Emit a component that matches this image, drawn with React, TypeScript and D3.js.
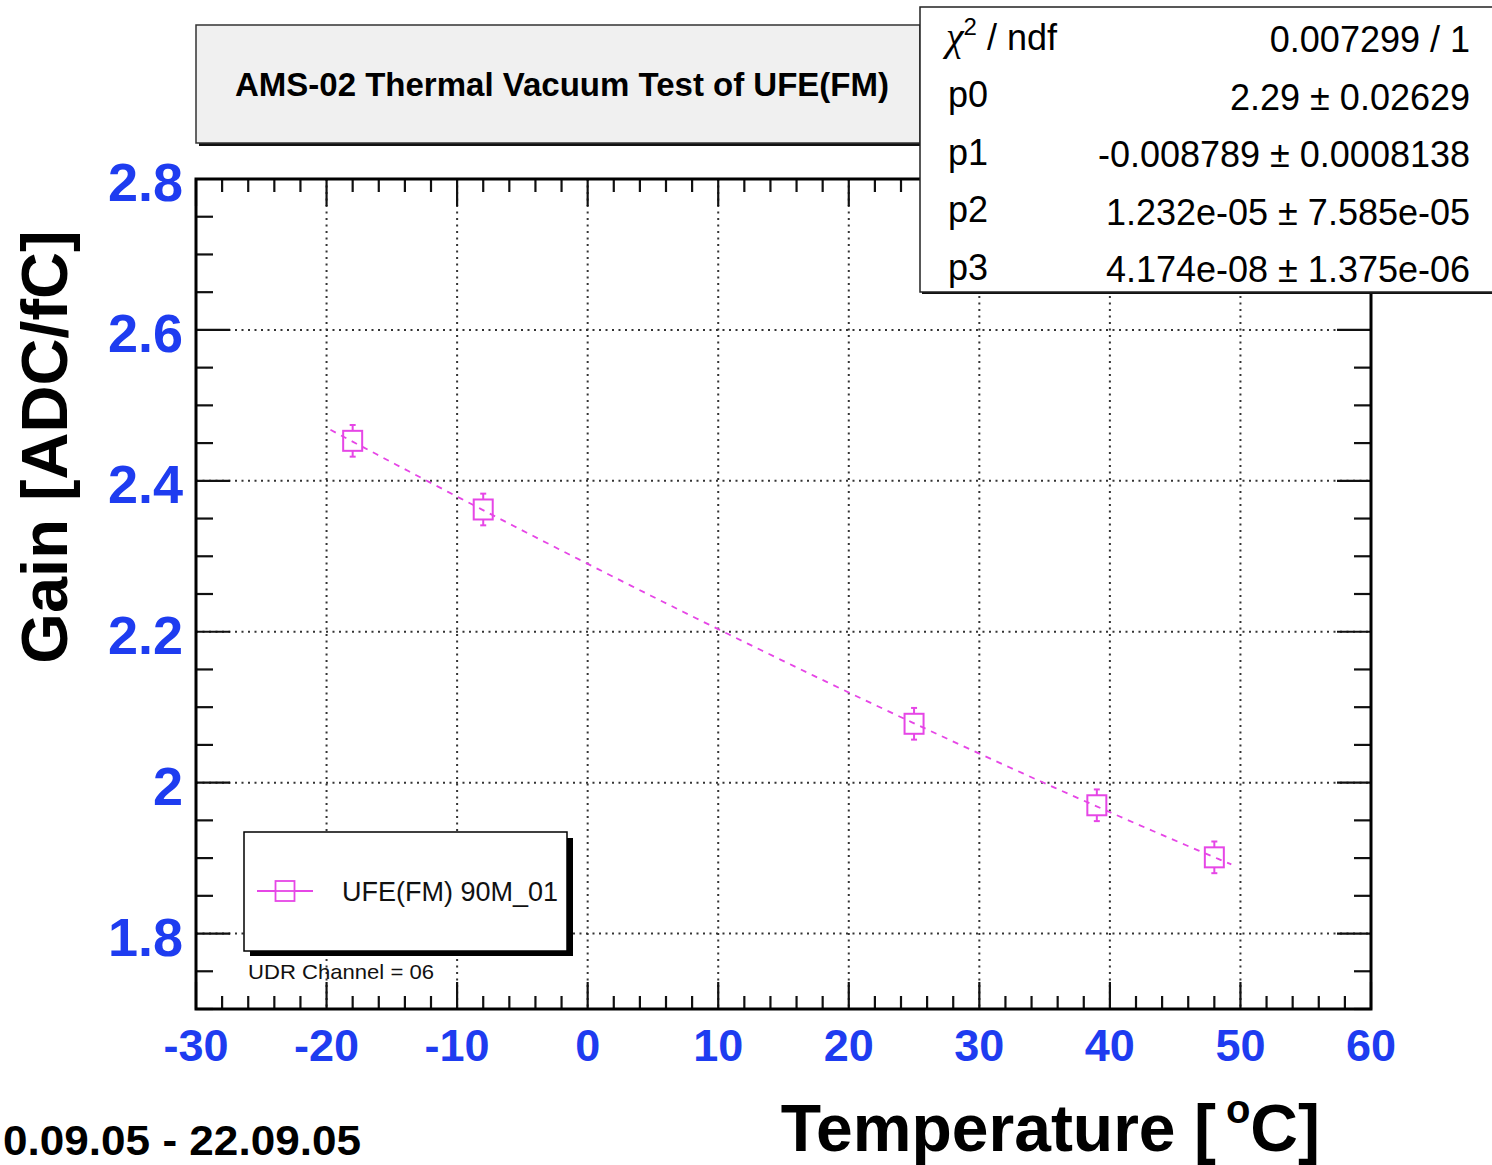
import React from 'react';
import * as d3 from 'd3';

// ---- data ----
const temperatures = [-18, -8, 25, 39, 48];
const gains = [2.453, 2.362, 2.078, 1.970, 1.901];
const gainErrors = [0.021, 0.021, 0.021, 0.021, 0.021];
const fitParams = [2.29, -0.008789, 1.232e-05, 4.174e-08];
const fitRange = [-20, 50];
const xTicks = [-30, -20, -10, 0, 10, 20, 30, 40, 50, 60];
const yTicks = [1.8, 2.0, 2.2, 2.4, 2.6, 2.8];
const yTickLabels = ['1.8', '2', '2.2', '2.4', '2.6', '2.8'];
const statsLabels = ['p0', 'p1', 'p2', 'p3'];
const statsValues = ['0.007299 / 1', '2.29 ± 0.02629', '-0.008789 ± 0.0008138', '1.232e-05 ± 7.585e-05', '4.174e-08 ± 1.375e-06'];
const legendLabel = 'UFE(FM) 90M_01';
const titleText = 'AMS-02 Thermal Vacuum Test of UFE(FM)';
const channelText = 'UDR Channel = 06';
const dateText = '0.09.05 - 22.09.05';

const W = 1492, H = 1165;
const L = 196, R = 1371, T = 179, B = 1009;
const FONT = '"Liberation Sans", Arial, Helvetica, sans-serif';
const BLUE = '#1e3cf0';
const MAG = '#e646e6';

export default function App() {
  const x = d3.scaleLinear().domain([-30, 60]).range([L, R]);
  const y = d3.scaleLinear().domain([1.7, 2.8]).range([B, T]);

  const xMinor = d3.range(0, 46).map(i => -30 + i * 2).filter(v => !xTicks.includes(v));
  const yMinor = d3.range(0, 23).map(i => +(1.7 + i * 0.05).toFixed(2)).filter(v => !yTicks.some(t => Math.abs(t - v) < 1e-6));

  const fitFn = (t: number) => fitParams.reduce((s, p, i) => s + p * Math.pow(t, i), 0);
  const fitPts = d3.range(0, 139).map(i => fitRange[0] + 0.3 + i * 0.5);
  const fitPath = d3.line<number>().x(t => x(t)).y(t => y(fitFn(t)))(fitPts) || '';

  const xMaj = 27, xMin = 13, yMaj = 34, yMin = 17;

  return (
    <svg width={W} height={H} style={{ position: 'absolute', left: 0, top: 0, background: '#fff' }} fontFamily={FONT}>
      <rect x={0} y={0} width={W} height={H} fill="#fff" />
      {/* grid */}
      {xTicks.filter(v => v > -30 && v < 60).map(v => (
        <line key={'gx' + v} x1={x(v)} x2={x(v)} y1={T} y2={B} stroke="#333" strokeWidth={2} strokeDasharray="2,4.5" />
      ))}
      {yTicks.filter(v => v < 2.8).map(v => (
        <line key={'gy' + v} x1={L} x2={R} y1={y(v)} y2={y(v)} stroke="#333" strokeWidth={2} strokeDasharray="2,4.5" />
      ))}
      {/* ticks */}
      <g stroke="#111" strokeWidth={2.2}>
        {xTicks.map(v => (
          <g key={'tx' + v}>
            <line x1={x(v)} x2={x(v)} y1={B} y2={B - xMaj} />
            <line x1={x(v)} x2={x(v)} y1={T} y2={T + xMaj} />
          </g>
        ))}
        {xMinor.map(v => (
          <g key={'tmx' + v}>
            <line x1={x(v)} x2={x(v)} y1={B} y2={B - xMin} />
            <line x1={x(v)} x2={x(v)} y1={T} y2={T + xMin} />
          </g>
        ))}
        {yTicks.map(v => (
          <g key={'ty' + v}>
            <line x1={L} x2={L + yMaj} y1={y(v)} y2={y(v)} />
            <line x1={R} x2={R - yMaj} y1={y(v)} y2={y(v)} />
          </g>
        ))}
        {yMinor.map(v => (
          <g key={'tmy' + v}>
            <line x1={L} x2={L + yMin} y1={y(v)} y2={y(v)} />
            <line x1={R} x2={R - yMin} y1={y(v)} y2={y(v)} />
          </g>
        ))}
      </g>
      {/* fit */}
      <path d={fitPath} fill="none" stroke={MAG} strokeWidth={1.8} strokeDasharray="6,6" />
      {/* points */}
      {temperatures.map((t, i) => {
        const cx = x(t), cy = y(gains[i]);
        const e1 = y(gains[i] + gainErrors[i]), e2 = y(gains[i] - gainErrors[i]);
        return (
          <g key={'p' + i} stroke={MAG} strokeWidth={2} fill="none">
            <line x1={cx} x2={cx} y1={e1} y2={cy - 10} />
            <line x1={cx} x2={cx} y1={cy + 10} y2={e2} />
            <line x1={cx - 3} x2={cx + 3} y1={e1} y2={e1} />
            <line x1={cx - 3} x2={cx + 3} y1={e2} y2={e2} />
            <rect x={cx - 9.5} y={cy - 10} width={19} height={20} />
          </g>
        );
      })}
      {/* frame */}
      <rect x={L} y={T} width={R - L} height={B - T} fill="none" stroke="#000" strokeWidth={3} />
      {/* axis labels */}
      {xTicks.map(v => (
        <text key={'lx' + v} x={x(v)} y={1061} textAnchor="middle" fontSize={45} fontWeight="bold" fill={BLUE}>{v}</text>
      ))}
      {yTicks.map((v, i) => (
        <text key={'ly' + v} x={183} y={y(v) + 22} textAnchor="end" fontSize={54} fontWeight="bold" fill={BLUE}>{yTickLabels[i]}</text>
      ))}
      <text transform="translate(67,447) rotate(-90)" textAnchor="middle" fontSize={65} fontWeight="bold" fill="#000">Gain [ADC/fC]</text>
      <text x={1320} y={1151} textAnchor="end" fontSize={66} fontWeight="bold" fill="#000">
        Temperature [<tspan fontSize={40} dx={10} dy={-28}>o</tspan><tspan dy={28}>C]</tspan>
      </text>
      <text x={3} y={1155} fontSize={43} fontWeight="bold" fill="#000" textLength={358} lengthAdjust="spacingAndGlyphs">{dateText}</text>
      {/* legend */}
      <rect x={250} y={838} width={323} height={118} fill="#000" />
      <rect x={244} y={832} width={323} height={119} fill="#fff" stroke="#000" strokeWidth={1.5} />
      <line x1={257} x2={313} y1={891} y2={891} stroke={MAG} strokeWidth={1.8} />
      <rect x={275.5} y={881} width={19} height={20} fill="#fff" stroke={MAG} strokeWidth={1.8} />
      <line x1={275.5} x2={294.5} y1={891} y2={891} stroke={MAG} strokeWidth={1.8} />
      <text x={342} y={901} fontSize={27} fill="#111">{legendLabel}</text>
      <text x={248} y={979} fontSize={21} fill="#111" textLength={186} lengthAdjust="spacingAndGlyphs">{channelText}</text>
      {/* title box */}
      <rect x={199} y={28} width={724} height={118} fill="#111" />
      <rect x={196} y={25} width={724} height={118} fill="#f0f0f0" stroke="#333" strokeWidth={1.5} />
      <text x={562} y={96} textAnchor="middle" fontSize={33} fontWeight="bold" fill="#000">{titleText}</text>
      {/* stats box */}
      <rect x={922} y={9} width={580} height={285} fill="#111" />
      <rect x={920} y={7} width={580} height={285} fill="#fff" stroke="#222" strokeWidth={1.5} />
      <text x={946} y={50} fontSize={36} fill="#000">
        <tspan fontFamily='"Liberation Serif", "DejaVu Serif", serif' fontStyle="italic" fontSize={40}>χ</tspan>
        <tspan fontSize={24} dy={-15}>2</tspan>
        <tspan dy={15}> / ndf</tspan>
      </text>
      {statsLabels.map((s, i) => (
        <text key={'sl' + s} x={948} y={107 + i * 57.5} fontSize={36} fill="#000">{s}</text>
      ))}
      {statsValues.map((s, i) => (
        <text key={'sv' + i} x={1470} y={52 + i * 57.5} textAnchor="end" fontSize={36} fill="#000">{s}</text>
      ))}
    </svg>
  );
}
